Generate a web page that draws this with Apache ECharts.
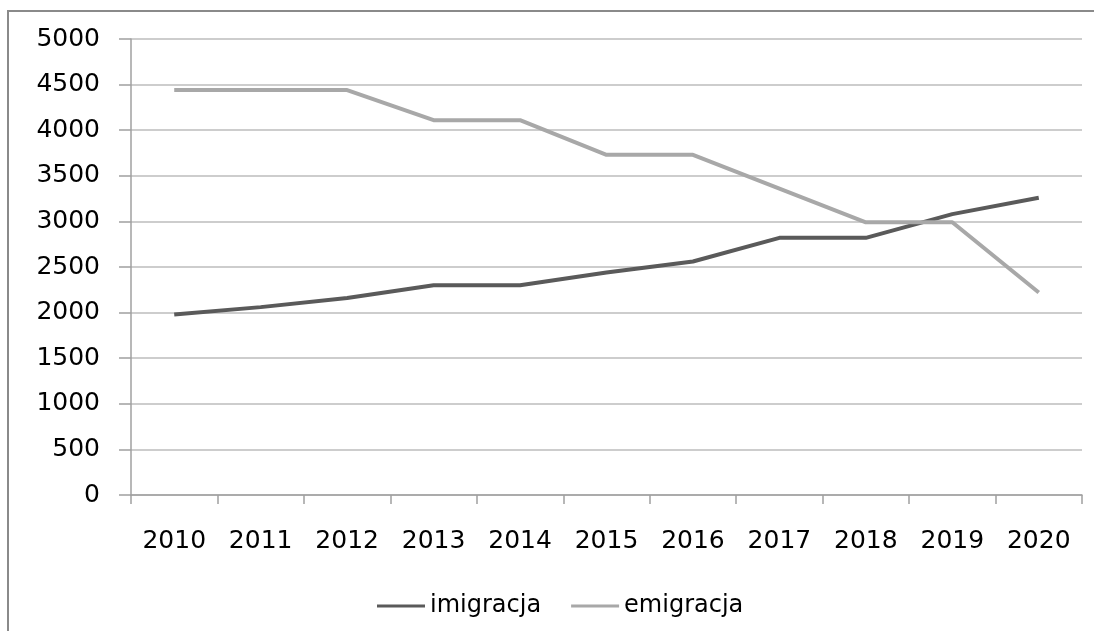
<!DOCTYPE html>
<html>
<head>
<meta charset="utf-8">
<script src="https://cdn.jsdelivr.net/npm/echarts@6/dist/echarts.min.js"></script>
<style>
html,body{margin:0;padding:0;background:#fff;overflow:hidden;}
#c{width:1094px;height:631px;position:relative;}
#frame{position:absolute;left:7px;top:10px;width:3000px;height:3000px;border-left:2px solid #8a8a8a;border-top:2px solid #8a8a8a;pointer-events:none;}
#wrap{position:relative;width:1094px;height:631px;overflow:hidden;}
</style>
</head>
<body>
<div id="wrap">
<div id="c"></div>
<div id="frame"></div>
</div>
<script>
const years = ['2010','2011','2012','2013','2014','2015','2016','2017','2018','2019','2020'];
const imigracja = [1980, 2060, 2160, 2300, 2300, 2440, 2560, 2820, 2820, 3080, 3260];
const emigracja = [4440, 4440, 4440, 4110, 4110, 3730, 3730, 3360, 2990, 2990, 2220];
const yTicks = { min: 0, max: 5000, interval: 500 };

const chart = echarts.init(document.getElementById('c'));
const font = 'DejaVu Sans';
chart.setOption({
  animation: false,
  backgroundColor: 'transparent',
  grid: { left: 131, right: 12, top: 39, bottom: 136, containLabel: false },
  legend: {
    left: 372, top: 589,
    itemWidth: 48, itemHeight: 3, itemGap: 30,
    icon: 'rect',
    textStyle: { fontFamily: font, fontSize: 24, color: '#000', padding: [0,0,0,0] },
    data: ['imigracja', 'emigracja']
  },
  xAxis: {
    type: 'category',
    data: years,
    boundaryGap: true,
    axisLine: { show: true, lineStyle: { color: '#a0a0a0', width: 1.5 } },
    axisTick: { show: true, length: 9, lineStyle: { color: '#a0a0a0', width: 1.5 } },
    axisLabel: { fontFamily: font, fontSize: 25, color: '#000', margin: 34 },
    splitLine: { show: false }
  },
  yAxis: {
    type: 'value',
    min: yTicks.min, max: yTicks.max, interval: yTicks.interval,
    axisLine: { show: true, lineStyle: { color: '#a0a0a0', width: 1.5 } },
    axisTick: { show: true, length: 12, lineStyle: { color: '#a0a0a0', width: 1.5 } },
    axisLabel: { fontFamily: font, fontSize: 25, color: '#000', margin: 31, formatter: v => String(v) },
    splitLine: { show: true, lineStyle: { color: '#bdbdbd', width: 1.5 } }
  },
  series: [
    {
      name: 'imigracja', type: 'line', data: imigracja,
      showSymbol: false, symbol: 'none',
      lineStyle: { color: '#5a5a5a', width: 4 },
      itemStyle: { color: '#5a5a5a' }
    },
    {
      name: 'emigracja', type: 'line', data: emigracja,
      showSymbol: false, symbol: 'none',
      lineStyle: { color: '#a8a8a8', width: 4 },
      itemStyle: { color: '#a8a8a8' }
    }
  ]
});
</script>
</body>
</html>
